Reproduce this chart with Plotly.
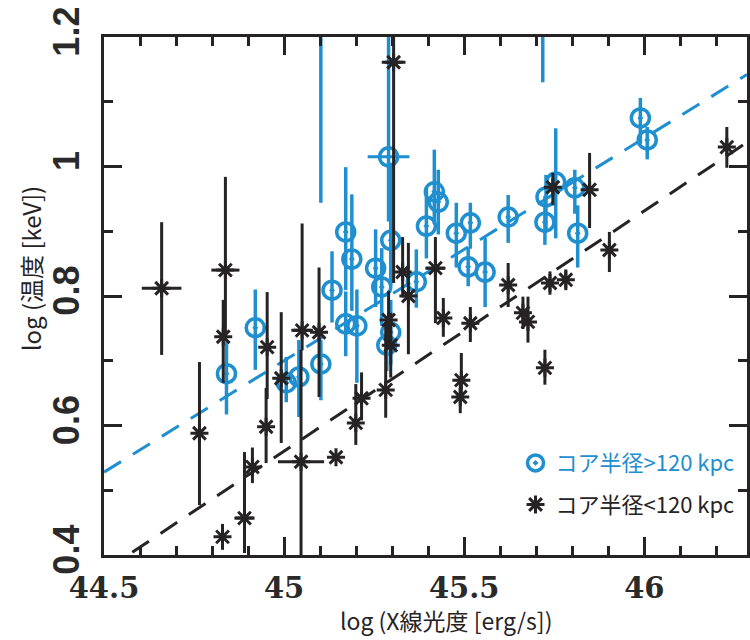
import plotly.graph_objects as go
import numpy as np

BLUE = "#1f8fd0"
BLACK = "#262324"

# core radius > 120 kpc (blue circles)
blue_x = [44.840, 44.920, 45.006, 45.041, 45.102, 45.133, 45.171, 45.188, 45.171, 45.202,
          45.254, 45.271, 45.285, 45.296, 45.290, 45.296, 45.367, 45.395, 45.417, 45.428,
          45.478, 45.517, 45.511, 45.558, 45.622, 45.727, 45.724, 45.754, 45.807, 45.815,
          45.989, 46.008, 45.102, 45.718]
blue_y = [0.680, 0.751, 0.666, 0.675, 0.695, 0.809, 0.899, 0.857, 0.757, 0.754,
          0.843, 0.814, 0.724, 0.744, 1.015, 0.886, 0.822, 0.908, 0.961, 0.945,
          0.897, 0.913, 0.845, 0.837, 0.922, 0.953, 0.914, 0.976, 0.967, 0.897,
          1.075, 1.041, 1.300, 1.300]
blue_ep = [0.050, 0.059, 0.040, 0.057, 0.037, 0.060, 0.100, 0.100, 0.050, 0.056,
           0.060, 0.060, 0.040, 0.050, 0.250, 0.120, 0.050, 0.060, 0.065, 0.050,
           0.047, 0.031, 0.030, 0.053, 0.034, 0.034, 0.040, 0.083, 0.028, 0.043,
           0.031, 0.020, 0.020, 0.020]
blue_em = [0.063, 0.065, 0.030, 0.062, 0.056, 0.050, 0.090, 0.080, 0.050, 0.088,
           0.060, 0.060, 0.040, 0.050, 0.100, 0.070, 0.040, 0.050, 0.050, 0.050,
           0.053, 0.040, 0.030, 0.054, 0.040, 0.050, 0.035, 0.087, 0.040, 0.053,
           0.040, 0.030, 0.356, 0.170]
blue_xe = [0, 0, 0, 0, 0, 0, 0, 0, 0, 0,
           0, 0, 0, 0, 0.058, 0, 0, 0, 0, 0,
           0, 0, 0, 0, 0, 0, 0, 0, 0, 0,
           0, 0, 0, 0]

# core radius < 120 kpc (black asterisks)
black_x = [44.660, 44.837, 44.831, 44.765, 44.829, 44.890, 44.912, 44.953, 44.950, 44.992,
           45.050, 45.097, 45.047, 45.144, 45.199, 45.215, 45.282, 45.290, 45.296, 45.304,
           45.329, 45.345, 45.420, 45.442, 45.517, 45.492, 45.489, 45.622, 45.663, 45.677,
           45.724, 45.738, 45.782, 45.746, 45.848, 45.903, 46.229]
black_y = [0.812, 0.840, 0.737, 0.588, 0.428, 0.457, 0.536, 0.721, 0.598, 0.673,
           0.747, 0.744, 0.544, 0.551, 0.604, 0.642, 0.655, 0.763, 0.724, 1.161,
           0.837, 0.800, 0.843, 0.766, 0.758, 0.670, 0.644, 0.817, 0.774, 0.760,
           0.689, 0.820, 0.825, 0.968, 0.964, 0.871, 1.030]
black_ep = [0.102, 0.144, 0.057, 0.110, 0.020, 0.102, 0.030, 0.085, 0.060, 0.102,
            0.165, 0.100, 0.173, 0.000, 0.060, 0.040, 0.105, 0.045, 0.050, 0.100,
            0.054, 0.082, 0.048, 0.031, 0.025, 0.042, 0.026, 0.034, 0.025, 0.039,
            0.028, 0.018, 0.016, 0.022, 0.057, 0.028, 0.031]
black_em = [0.103, 0.103, 0.071, 0.111, 0.020, 0.054, 0.025, 0.080, 0.056, 0.100,
            0.031, 0.100, 0.200, 0.000, 0.034, 0.034, 0.043, 0.045, 0.050, 0.341,
            0.039, 0.090, 0.085, 0.029, 0.029, 0.031, 0.025, 0.034, 0.025, 0.032,
            0.026, 0.018, 0.016, 0.028, 0.059, 0.034, 0.032]
black_xe = [0.055, 0.039, 0, 0, 0, 0.028, 0, 0, 0, 0,
            0.030, 0, 0.064, 0, 0, 0, 0, 0, 0, 0.033,
            0, 0, 0.028, 0, 0, 0, 0, 0, 0, 0,
            0, 0, 0, 0, 0, 0, 0]

# dashed fits: intercept at x=44.5, slope
blue_fit = [0.528, 0.344]
black_fit = [0.375, 0.371]
x_range = [44.5, 46.285]

legend_blue = "コア半径&gt;120 kpc"
legend_black = "コア半径&lt;120 kpc"

fig = go.Figure()
xf = np.array(x_range)
fig.add_trace(go.Scatter(x=xf, y=blue_fit[0] + blue_fit[1] * (xf - 44.5), mode="lines",
                         line=dict(color=BLUE, width=3, dash="20px,14px"), showlegend=False,
                         hoverinfo="skip"))
fig.add_trace(go.Scatter(x=xf, y=black_fit[0] + black_fit[1] * (xf - 44.5), mode="lines",
                         line=dict(color=BLACK, width=3, dash="20px,14px"), showlegend=False,
                         hoverinfo="skip"))

fig.add_trace(go.Scatter(
    x=blue_x, y=blue_y, mode="markers",
    name=f"<span style='color:{BLUE}'>{legend_blue}</span>", legendgroup="a",
    marker=dict(symbol="circle-open-dot", size=18, color=BLUE, line=dict(width=3.5, color=BLUE)),
    error_y=dict(type="data", symmetric=False, array=blue_ep, arrayminus=blue_em,
                 thickness=3.5, width=0, color=BLUE),
    error_x=dict(type="data", array=blue_xe, thickness=3, width=0, color=BLUE),
))
fig.add_trace(go.Scatter(
    x=black_x, y=black_y, mode="markers",
    name=f"<span style='color:{BLACK}'>{legend_black}</span>", legendgroup="b",
    marker=dict(symbol="asterisk-open", size=15, color=BLACK, line=dict(width=3, color=BLACK)),
    error_y=dict(type="data", symmetric=False, array=black_ep, arrayminus=black_em,
                 thickness=3, width=0, color=BLACK),
    error_x=dict(type="data", array=black_xe, thickness=3, width=0, color=BLACK),
))

axis_common = dict(showline=True, linewidth=3, linecolor=BLACK, mirror="ticks",
                   ticks="inside", ticklen=18, tickwidth=3, tickcolor=BLACK,
                   showgrid=False, zeroline=False)

fig.update_xaxes(range=x_range, tick0=44.5, dtick=0.5,
                 minor=dict(dtick=0.1, ticks="inside", ticklen=9, tickwidth=3, tickcolor=BLACK),
                 tickfont=dict(family="DejaVu Serif", size=29, weight="bold", color="#2a2a2a"),
                 ticklabelstandoff=5, **axis_common)
fig.update_yaxes(range=[0.4, 1.2], tick0=0.4, dtick=0.2, tickangle=-90,
                 minor=dict(dtick=0.1, ticks="inside", ticklen=9, tickwidth=3, tickcolor=BLACK),
                 tickfont=dict(family="Liberation Sans", size=36, weight="bold", color="#2a2a2a"),
                 ticklabelstandoff=8, **axis_common)

fig.add_annotation(text="log (X線光度 [erg/s])", xref="paper", yref="paper",
                   x=0.5325, y=-0.126, xanchor="center", yanchor="middle", showarrow=False,
                   font=dict(family="Noto Sans CJK JP", size=23, color=BLACK))
fig.add_annotation(text="log (温度 [keV])", xref="paper", yref="paper", textangle=-90,
                   x=-0.1146, y=0.554, xanchor="center", yanchor="middle", showarrow=False,
                   font=dict(family="Noto Sans CJK JP", size=24, color=BLACK))

fig.update_layout(
    width=750, height=640,
    margin=dict(l=104, r=0, t=37, b=85),
    plot_bgcolor="white", paper_bgcolor="white",
    legend=dict(x=0.64, y=0.218, xanchor="left", yanchor="top", bgcolor="rgba(0,0,0,0)",
                font=dict(family="Noto Sans CJK JP", size=22), tracegroupgap=10),
)

fig.write_html("out.html")
